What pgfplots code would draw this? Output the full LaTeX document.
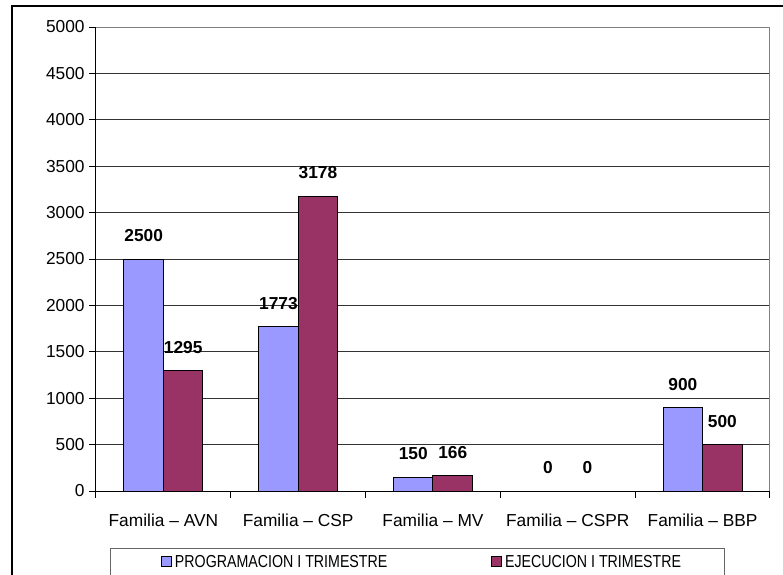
\documentclass[border=0pt]{standalone}
\usepackage{fontspec}
\setmainfont{Liberation Sans}
\newfontfamily\legfont[FakeStretch=0.82]{Liberation Sans}
\usepackage{pgfplots}
\pgfplotsset{compat=1.18}
\definecolor{progblue}{HTML}{9999FF}
\definecolor{ejecred}{HTML}{993366}
\begin{document}
\begin{tikzpicture}
% page = 783 x 575 px, 1px = 0.75pt, origin at top left
\path[use as bounding box] (0,0) rectangle (587.25pt,-431.25pt);
% outer chart frame (cut at right and bottom)
\draw[line width=1pt] (9pt,-440pt) -- (9pt,-4.5pt) -- (600pt,-4.5pt);
% legend frame (cut at bottom)
\draw[black!60, line width=0.75pt] (82.5pt,-440pt) -- (82.5pt,-411pt) -- (543pt,-411pt) -- (543pt,-440pt);
\begin{axis}[
    at={(72pt,-368.25pt)}, anchor=south west,
    scale only axis,
    width=505.5pt, height=348pt,
    xmin=0.5, xmax=5.5,
    ymin=0, ymax=5000,
    xtick={0.5,1.5,2.5,3.5,4.5,5.5},
    xticklabels={Familia -- AVN, Familia -- CSP, Familia -- MV, Familia -- CSPR, Familia -- BBP},
    x tick label as interval,
    xtick pos=bottom, ytick pos=left,
    ytick={0,500,...,5000},
    ymajorgrids,
    grid style={black!80, line width=0.6pt},
    axis line style={draw=none},
    tick align=outside,
    major tick length=5pt,
    tick style={black, line width=0.75pt},
    tick label style={font=\fontsize{13}{15}\selectfont},
    xticklabel style={yshift=-9pt},
    /pgf/number format/1000 sep={},
    /pgf/number format/assume math mode=true,
    ybar=0pt,
    bar width=0.293,
    nodes near coords,
    every node near coord/.append style={font=\bfseries\fontsize{13}{15}\selectfont, inner sep=0pt, anchor=south, yshift=12.5pt},
    legend columns=2,
    legend cell align=left,
    legend style={draw=none, fill=none, at={(0.0965,-0.153)}, anchor=west, inner sep=0pt,
        font=\legfont\fontsize{13}{15}\selectfont},
    legend image code/.code={\draw[#1, line width=0.75pt] (0pt,-3.75pt) rectangle (7.5pt,3.75pt);},
    clip=false,
]
\addplot[fill=progblue, draw=black, line width=0.75pt, bar shift=-0.1465] coordinates {
    (1,2500) (2,1773) (3,150) (4,0) (5,900)
};
\addlegendentry{PROGRAMACION I TRIMESTRE\hspace*{76pt}}
\addplot[fill=ejecred, draw=black, line width=0.75pt, bar shift=0.1465] coordinates {
    (1,1295) (2,3178) (3,166) (4,0) (5,500)
};
\addlegendentry{EJECUCION I TRIMESTRE}
% plot area frame: grey top and right, black left and bottom
\draw[black!50, line width=0.75pt] (rel axis cs:0,1) -- (rel axis cs:1,1) -- (rel axis cs:1,0);
\draw[black, line width=0.75pt] (rel axis cs:0,1) -- (rel axis cs:0,0) -- (rel axis cs:1,0);
\end{axis}
\end{tikzpicture}
\end{document}
